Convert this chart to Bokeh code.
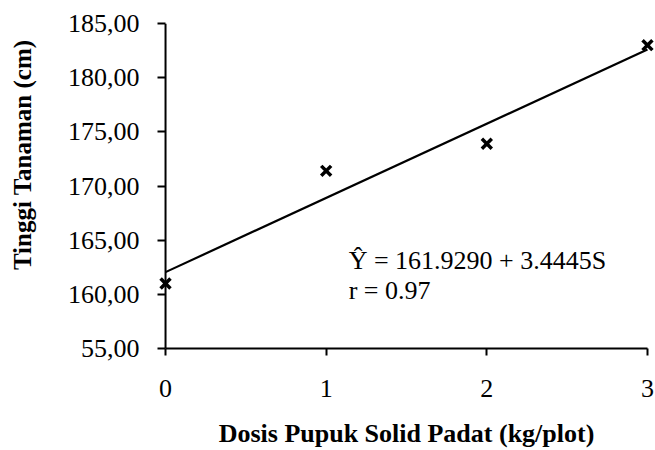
import numpy as np
from bokeh.plotting import figure
from bokeh.models import FixedTicker, Label, Range1d, Span, Title
from bokeh.embed import file_html
from bokeh.resources import INLINE

# ---- data ----
dose = [0, 1, 2, 3]
height = [161.0, 171.4, 173.9, 183.0]
y_ticks = [155, 160, 165, 170, 175, 180, 185]
y_tick_labels = ["55,00", "160,00", "165,00", "170,00", "175,00", "180,00", "185,00"]
x_ticks = [0, 1, 2, 3]
x_title = "Dosis Pupuk Solid Padat (kg/plot)"
y_title = "Tinggi Tanaman (cm)"
eq_text = "Ŷ = 161.9290 + 3.4445S"
r_text = "r = 0.97"

FONT = "Liberation Serif"

p = figure(width=655, height=450, output_backend="svg", toolbar_location=None,
           x_range=Range1d(-0.05, 3.05), y_range=Range1d(155, 185),
           min_border_left=157, min_border_top=23, min_border_right=0, min_border_bottom=0)
p.outline_line_color = None
p.xgrid.visible = False
p.ygrid.visible = False
p.background_fill_color = "white"

# regression line from least squares fit
slope, intercept = np.polyfit(dose, height, 1)
lx = [min(dose), max(dose)]
ly = [intercept + slope * v for v in lx]
p.line(lx, ly, line_color="black", line_width=2.2)

p.scatter(dose, height, marker="x", size=14, line_width=3.5, line_color="black")

# axes
for ax in (p.xaxis[0], p.yaxis[0]):
    ax.axis_line_width = 2
    ax.axis_line_color = "black"
    ax.major_tick_line_width = 2
    ax.major_tick_line_color = "black"
    ax.minor_tick_line_color = None
    ax.major_label_text_font = FONT
    ax.major_label_text_font_size = "26px"
    ax.major_label_text_color = "black"
    ax.axis_label_text_font = FONT
    ax.axis_label_text_font_style = "bold"
    ax.axis_label_text_font_size = "26px"
    ax.axis_label_text_color = "black"

xa = p.xaxis[0]
xa.ticker = FixedTicker(ticks=x_ticks)
xa.bounds = (x_ticks[0], x_ticks[-1])
xa.major_tick_in = 0
xa.major_tick_out = 7
xa.major_label_standoff = 24
xa.axis_label = x_title
xa.axis_label_standoff = 19

ya = p.yaxis[0]
ya.ticker = FixedTicker(ticks=y_ticks)
ya.major_label_overrides = {t: s for t, s in zip(y_ticks, y_tick_labels)}
ya.axis_line_color = None
ya.major_tick_in = 8
ya.major_tick_out = 0
ya.major_label_standoff = 18

# vertical spine at x = 0
p.add_layout(Span(location=x_ticks[0], dimension="height", line_color="black", line_width=2))

# y axis title (placed off-centre and further out, as in the original)
p.add_layout(Title(text=y_title + "\n", align="right", vertical_align="top", offset=16, standoff=0,
                   text_font=FONT, text_font_style="bold", text_font_size="25px",
                   text_color="black"), "left")

p.add_layout(Label(x=1.14, y=163.1, text=eq_text, text_font=FONT,
                   text_font_size="26px", text_color="black", text_baseline="alphabetic"))
p.add_layout(Label(x=1.14, y=160.4, text=r_text, text_font=FONT,
                   text_font_size="26px", text_color="black", text_baseline="alphabetic"))

open("out.html", "w").write(file_html(p, INLINE))
